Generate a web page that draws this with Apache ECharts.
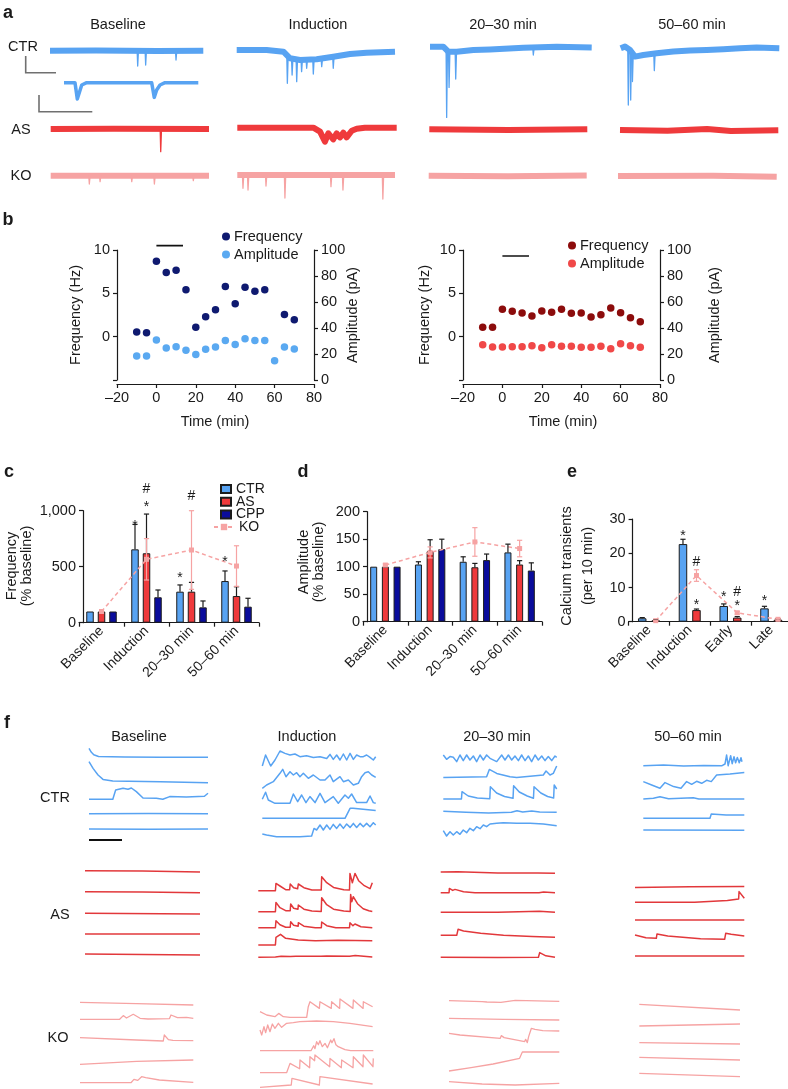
<!DOCTYPE html>
<html><head><meta charset="utf-8">
<script src="https://cdn.jsdelivr.net/npm/echarts/dist/echarts.min.js"></script>
<style>html,body{margin:0;padding:0;background:#fff}#c{width:788px;height:1089px}</style>
</head><body><div id="c"></div>
<script>
// ================= DATA =================
// ---- Panel a: patch-clamp sweeps. band = [t (% of sweep), current], spikes = [t, from, to]
const aCols = ['Baseline','Induction','20–30 min','50–60 min'];
const aRows = ['CTR','AS','KO'];
const aCtrBaseBand = [[0,0],[30,0.3],[70,-0.3],[100,0]];
const aCtrBaseSpikes = [[57.2,0,-15.3],[62.4,0,-14.3],[82.2,0,-9.3]];
const aCtrZoomBand = [[0,0],[8.2,0],[9.9,-16.3],[13.2,-2.3],[16.9,0],[65.3,0],[67.2,-14.7],[69,-7.3],[71.5,-2.3],[75.2,0],[100,0]];
const aAsBaseBand = [[0,0],[40,0.3],[100,0]];
const aAsBaseSpikes = [[69.5,0,-22.7]];
const aKoBaseBand = [[0,0],[100,0]];
const aKoBaseSpikes = [[24.4,0,-8.3],[31.2,0,-6],[51.2,0,-6],[65.5,0,-8.3],[90.1,0,-5]];
const aCtrIndBand = [[0,0],[18.9,0],[29.5,-1.7],[33.7,-8.3],[40,-10],[50.5,-9.3],[61,-6.7],[71.6,-4],[82,-2.7],[100,-1.7]];
const aCtrIndSpikes = [[32,-6,-33.3],[35,-9,-25],[37.9,-9.7,-31.7],[41,-10,-21.7],[44.2,-9.8,-18.3],[48.4,-9.5,-24],[53.7,-8.7,-16.7],[61,-6.7,-18.3]];
const aAsIndBand = [[0,0],[47.7,0],[51.9,-4],[55,-14],[57.1,-5.7],[60.2,-11.7],[62.3,-5.7],[64.4,-9.7],[66.5,-5],[68.6,-9.7],[71.8,-3],[74.9,-1],[80,0],[100,0]];
const aKoIndBand = [[0,0],[100,0]];
const aKoIndSpikes = [[3.6,0,-13.3],[6.8,0,-15],[18.2,0,-11],[30.2,0,-23],[59.4,0,-11.7],[67,0,-15],[92.3,0,-24]];
const aCtr2030Band = [[0,0],[8.2,0],[11.3,-5],[16.5,-5],[26.8,-3.3],[37.1,-2.7],[57.7,-1],[78.4,0],[100,-0.7]];
const aCtr2030Spikes = [[10.3,-3,-70.7],[11.8,-5,-40.7],[15.9,-5,-32.3],[63.9,-1,-8.3]];
const aAs2030Band = [[0,0],[50,-0.7],[100,0]];
const aKo2030Band = [[0,0],[50,-0.5],[100,0.3]];
const aCtr5060Band = [[0,0],[2.7,1.7],[5.9,-1.7],[9,-8.3],[14.3,-6.7],[22.7,-5],[33.2,-3.3],[43.7,-2.3],[54.2,-1.7],[64.7,-1],[75.2,0],[85.7,0.7],[100,0]];
const aCtr5060Spikes = [[4.8,-1,-56.7],[6.3,-3,-51.7],[7.4,-5,-33.3],[21.2,-5,-22.3]];
const aAs5060Band = [[0,0],[30,-0.7],[55,1],[70,-1],[100,-0.3]];
const aKo5060Band = [[0,0],[60,0.3],[100,-0.7]];

// ---- Panel b
const bTime = [-10,-5,0,5,10,15,20,25,30,35,40,45,50,55,60,65,70];
const bCtrFreq = [0.55,0.45,8.7,7.4,7.65,5.4,1.1,2.3,3.1,5.8,3.8,5.7,5.25,5.4,null,2.55,1.95];
const bCtrAmp = [18.5,18.5,30.8,24.6,25.6,22.8,19.7,23.6,25.4,30.3,27.4,31.8,30.3,30.3,14.9,25.4,23.8];
const bAsFreq = [1.08,1.08,3.16,2.93,2.73,2.39,2.96,2.81,3.16,2.69,2.73,2.27,2.54,3.31,2.77,2.19,1.73];
const bAsAmp = [27.2,25.4,25.4,25.6,25.6,26.4,24.9,27.2,25.9,25.9,25.1,25.1,25.9,24.1,27.9,26.4,25.1];
const bInduction = [0, 13.5];

// ---- Panel c (frequency, % baseline)
const cCats = ['Baseline','Induction','20–30 min','50–60 min'];
const cCTR = [100,655,277,372], cCTRerr = [0,223,60,90];
const cAS = [100,620,277,238], cASerr = [0,350,83,83];
const cCPP = [100,227,137,143], cCPPerr = [0,65,57,75];
const cKO = [100,566,649,506], cKOerr = [0,185,351,181];
const cNotes = [[1,0,899,'*'],[1,1,1069,'*'],[1,1,1194,'#'],[2,0,435,'*'],[2,1,1131,'#'],[3,0,578,'*']];

// ---- Panel d (amplitude, % baseline)
const dCats = ['Baseline','Induction','20–30 min','50–60 min'];
const dCTR = [100,104,109,126], dCTRerr = [0,5,9,15];
const dAS = [100,128,99,104], dASerr = [0,21,7,7];
const dCPP = [100,132,112,93], dCPPerr = [0,18,11,14];
const dKO = [103,126,145,133], dKOerr = [2,10,26,15];

// ---- Panel e (calcium transients per 10 min)
const eCats = ['Baseline','Induction','Early','Late'];
const eCTR = [1.0,22.7,4.6,3.9], eCTRerr = [0.2,1.4,0.6,0.6];
const eAS = [0.4,3.4,1.2,0.6], eASerr = [0.1,0.3,0.3,0.2];
const eKO = [0.3,13.5,2.6,0.7], eKOerr = [0.1,1.7,0.4,0.2];
const eNotes = [[1,0,26.2,'*'],[1,1,17.7,'#'],[1,1,6.0,'*'],[2,0,8.4,'*'],[2,1,8.7,'#'],[2,1,5.8,'*'],[3,0,7.2,'*']];

// ---- Panel f: calcium traces, [t (% of sweep), dF]
const fCtrBaseline = [
 [[0,9],[2,5],[4,2.5],[8,0.8],[30,0.3],[60,0],[100,0]],
 [[0,20],[3.4,13.3],[7.6,6.7],[11.8,2.3],[20,0.7],[60,0],[100,-1]],
 [[0,0],[20,0],[22.4,9.3],[28.6,11],[32.8,10],[35.6,11.3],[39.8,7.7],[45.4,1.3],[56.6,1],[62,0],[67.8,2.7],[81.8,2.3],[97,3],[100,6]],
 [[0,0],[50,0.3],[100,0]],
 [[0,0],[50,-0.3],[100,0]]];
const fCtrInduction = [
 [[0,-9.3],[2.9,1.7],[7.4,-9.3],[11.2,-3.3],[15.6,5.7],[20,3.3],[24.4,1.7],[28.8,2.7],[33.2,0],[39,1],[45,-0.7],[50.9,0],[56.8,-1.7],[59.7,2.3],[62.6,-2.7],[65.6,1.7],[68.5,-3.3],[71.5,2.7],[74.4,-3.3],[77.4,3.3],[80.3,-2.7],[83.2,1.7],[86.2,0],[89.1,0],[92,1.7],[95,-0.7],[97.9,-3.3],[100,0]],
 [[0,-8.3],[3.8,-5],[9.7,-1.7],[15.6,6.7],[18,10.7],[20.9,3.3],[24.4,8.3],[27.4,5],[30.3,7.3],[33.2,3.3],[36.2,6.7],[40.6,1.7],[45,5],[50.9,0],[55.3,0],[59.7,5],[62.6,-1.7],[68.5,3.3],[71.5,-1.7],[75.9,0],[80.3,-5],[84.7,-3.3],[87.6,3.3],[90.6,7.3],[93.5,8.3],[96.5,5],[100,2.7]],
 [[0,4],[2.9,11],[5.3,3.3],[11.2,0],[24.4,0],[27.4,9.3],[31.2,1.7],[34.7,8.3],[38.5,0.7],[42,6.7],[46.5,0.7],[50.9,10],[55.3,0.7],[62.6,6.7],[67,0],[72.9,8.3],[75.9,5],[78.8,9.3],[83.2,0.7],[92,0.7],[95,7.3],[97.9,0.7],[100,0]],
 [[0,0],[72.9,0],[77.4,10],[80,10],[100,7.7]],
 [[0,2.7],[3.8,1.7],[12.6,0],[33.2,0],[43.5,0.7],[45.6,8.3],[47.9,6.7],[50.9,11.7],[53.8,6.7],[56.8,11.7],[59.7,7.3],[62.6,12.3],[65.6,8.3],[68.5,12.7],[71.5,8.3],[74.4,12.7],[77.4,9.3],[80.3,13.3],[83.2,9.3],[86.2,13.3],[89.1,10],[92,13.3],[95,10],[97.9,14],[100,11.7]]];
const fCtr2030 = [
 [[0,3.3],[2.9,-1],[5.9,1.7],[8.8,1],[11.8,-3.3],[14.7,3.3],[17.6,-2.3],[20.6,3.3],[23.5,-1.7],[26.5,2.3],[29.4,-3.3],[32.4,3.3],[35.3,-1.7],[38.2,3.3],[41.2,0],[47.1,-3.3],[51.5,3.3],[54.4,-1.7],[57.4,3.3],[60.3,-1.7],[63.2,2.3],[66.2,-2.3],[69.1,3.3],[72.1,-2.3],[75,2.3],[77.9,-3.3],[80.9,3.3],[83.8,-1.7],[86.8,2.3],[89.7,-2.3],[92.6,1.7],[95.6,-2.3],[98.5,2.3],[100,1]],
 [[0,-0.7],[38.2,0],[40.6,7.3],[47.1,3.3],[58.8,0],[64.7,-0.7],[88.2,1.7],[90.6,5.7],[94.1,1.7],[97,3.3],[100,10.7]],
 [[0,0],[16,0],[16.5,7.3],[22,3],[30,1],[41,0.3],[41.5,12.3],[47,6],[54,2.5],[61.5,0.7],[62,13.3],[67,7],[74,3],[79.5,0.7],[80,12.3],[86,6],[92,2.5],[97.3,1],[97.8,14],[100,10]],
 [[0,1],[20,0],[40,-0.7],[60,0],[65,1.5],[70,0.3],[78,1.3],[85,0.3],[100,0]],
 [[0,-5.7],[2.9,-11],[5.9,-6.7],[8.8,-10],[11.8,-6.7],[14.7,-9.3],[17.6,-5],[20.6,-7.7],[23.5,-3.3],[26.5,-5.7],[29.4,-1.7],[32.4,-3.7],[35.3,0],[38.2,-1.7],[41.2,1],[47.1,1.7],[52.9,2.3],[64.7,1.7],[76.5,1.7],[88.2,1],[100,-0.7]]];
const fCtr5060 = [
 [[0,0],[20,0.7],[40,-0.3],[60,0.3],[78,0],[80.9,1.7],[82.5,10.7],[84,0],[86.5,10],[88,2],[89.8,9],[91.4,3],[93.1,8.3],[95,3],[96.7,8],[97.7,4]],
 [[0,1.7],[8.3,-1.7],[16.5,-5],[21.5,0.7],[30,-3.3],[37.3,-5],[42.9,1.7],[47.9,-1],[52.8,2],[57.8,0],[62.7,3],[67.3,1.7],[72.6,8.3],[85.8,9.3],[100,10.7]],
 [[0,0],[10,0.7],[16.5,2.3],[25,0.3],[49.5,1.3],[55,0],[100,0]],
 [[0,0],[66,0],[67.3,4.3],[82,3.3],[83.5,5],[90,3.3],[100,3.3]],
 [[0,0],[100,-0.3]]];
const fAsBaseline = [
 [[0,0],[50,-0.3],[100,-1.3]],
 [[0,0],[50,-0.3],[100,-1]],
 [[0,0],[100,-0.7]],
 [[0,0],[100,0]],
 [[0,0],[100,-1]]];
const fAsInduction = [
 [[0,0],[15,0],[15.5,7.3],[19,4.7],[24,1],[27.5,1],[28,6.7],[31,3],[34.5,2],[35.1,6.7],[40,3],[47,0.7],[55.2,0.7],[55.6,14],[60,8],[66,3.3],[75,1],[80,0.7],[80.4,17.3],[82.5,8],[84.8,17.3],[88,10],[93,5],[98,2],[99,2],[100,8]],
 [[0,0],[15,0],[15.5,9.3],[19,4],[24,1],[28,1],[28.4,7.7],[31,3.5],[34.8,2.5],[35.1,6.7],[40,2.5],[47,0.7],[55.2,0.3],[55.6,14],[60,7],[66,2.5],[75,0.7],[80.6,0.3],[81,17.3],[82,10],[83.3,15],[87,8],[92,3],[97,1],[100,0.3]],
 [[0,0],[15,0],[15.5,7],[19,3],[24,0.5],[28,0.5],[28.4,6],[31,2.5],[35,1.5],[35.1,5],[40,1.5],[50,0],[55.3,0],[55.6,5.7],[60,2],[68,0],[80,0],[80.4,5],[83,2],[84.8,3.7],[90,1],[100,0]],
 [[0,0],[15,0],[15.5,7.7],[17,6.5],[19.5,10.7],[24,6.7],[35,5],[50,4.3],[70,4.7],[100,4.3]],
 [[0,0],[15,0.3],[16,2.3],[20,1],[28,0.7],[29,2],[33,1],[55,1],[56,2.7],[60,1.3],[80,1],[81,2.7],[85,1.7],[100,0.3]]];
const fAs2030 = [
 [[0,0],[15,0.3],[50,-1],[85,-1],[86,0],[100,-1.3]],
 [[0,0],[7.3,0],[7.6,4.3],[10.5,2.3],[12.5,3.3],[20,1],[30,0],[86,0],[86.6,1.7],[90,0.7],[100,0]],
 [[0,0],[50,0],[86.3,1],[88,0],[100,0]],
 [[0,0],[14,0],[15.2,6],[20,4.3],[35,2],[55,0],[80,-1.3],[100,-2]],
 [[0,0],[50,-0.3],[85.5,0],[86.6,4.7],[92,1.5],[100,0]]];
const fAs5060 = [
 [[0,-0.7],[50,0],[100,0.3]],
 [[0,0],[54.5,0],[55,1.7],[84.5,1.7],[85,3.3],[94.8,3.3],[95.2,10.7],[100,4]],
 [[0,0],[100,0]],
 [[0,1],[10,-1.7],[19.5,-2.3],[20.1,2],[30,0],[60,-2.7],[82,-3.3],[83,2.7],[88,1.7],[100,0]],
 [[0,0],[100,0]]];
const fKoBaseline = [
 [[0,1],[50,-0.3],[100,-1.7]],
 [[0,0],[35,0],[38.2,3.7],[41,1.3],[47,5],[53,1],[60,0.3],[79,0.7],[80.3,4.3],[86,1.7],[94,2],[100,1]],
 [[0,0.7],[50,-1.7],[73.5,-2.7],[74.4,3.3],[78,-1.3],[82,-2],[100,-2.3]],
 [[0,-1],[50,2],[100,3.3]],
 [[0,-1],[45,-1],[47.6,2.3],[51,1.3],[54.4,5],[58,4],[70,1.7],[100,-0.7]]];
const fKoInduction = [
 [[0,5],[5.9,1.7],[13.2,0],[16.5,3.3],[20.6,0],[26.5,-0.7],[41.2,-0.7],[42.6,10],[44.1,15],[52.4,8.3],[52.9,15],[62.9,8.3],[63.2,15],[70.3,8.3],[70.6,17.7],[82,8.3],[82.4,16.7],[91,8.3],[91.2,15],[99.4,10]],
 [[0,-5],[1.5,-10],[3.5,-1.7],[5,-7.7],[6.8,0],[8.8,-6.7],[10.9,1],[13.2,-3.3],[16.2,1.7],[19.1,-2.3],[23.5,1.7],[29.4,2.3],[35.3,3.3],[50,4],[64.7,3.3],[79.4,1.7],[99.4,-1.7]],
 [[0,0],[45,0],[47.4,5],[48.5,2],[50,9],[51.5,6],[52.9,10],[55,4],[57.4,7.3],[59.5,3],[62.4,10.7],[63.5,8],[65.3,12],[67,6],[69,4],[75,1],[80,0],[100,0]],
 [[0,0],[23.5,0],[26.5,9.3],[35,4],[35.3,12.7],[43.8,5],[44.1,16],[48.2,12],[48.5,17.7],[61.5,6],[61.8,14.3],[71.8,5],[72.1,12.7],[82.1,5],[82.4,16],[90.9,6],[91.2,17.7],[99.7,6],[100,14.3]],
 [[0,0],[27.6,2.3],[28.2,9],[52.4,2.3],[52.9,10.7],[99.4,3.3]]];
const fKo2030 = [
 [[0,0],[30,-1],[34.4,-1.3],[35,0.3],[47,-1.7],[48,0],[60,0.3],[100,-0.7]],
 [[0,0],[50,-1],[100,-1.7]],
 [[0,0],[10,-1.7],[46.5,-5],[47.4,-2.3],[50,-4.3],[68.6,-8.3],[69.5,-6],[71,-9.3],[72.2,-3.3],[74.7,5],[78,4],[85,2.7],[100,2.3]],
 [[0,0],[20,3.3],[40,7],[64,12.7],[65.5,13],[66.5,19],[68,20],[100,19]],
 [[0,0],[30,-2.3],[60,-3.3],[100,-1.7]]];
const fKo5060 = [
 [[0,0],[100,-5.7]],
 [[0,-1],[100,1]],
 [[0,0],[100,-1.3]],
 [[0,0],[100,-2.7]],
 [[0,0],[100,-3.3]]];
const fCols = ['Baseline','Induction','20–30 min','50–60 min'];
const fRows = ['CTR','AS','KO'];

// ================= STYLE / LAYOUT =================
const FF = "'Liberation Sans', Arial, Helvetica, sans-serif";
const INK = '#1a1a1a';
const C_CTR = '#58a3f2', C_AS = '#ef3a3c', C_KO = '#f6a3a3', C_CPP = '#0a0c9c';
const C_ASf = '#e2383b';
const opt = {animation:false, backgroundColor:'#fff', textStyle:{fontFamily:FF},
  grid:[], xAxis:[], yAxis:[], series:[], legend:[], graphic:{elements:[]}};
function grid(g){ opt.grid.push(Object.assign({outerBoundsMode:'none', containLabel:false, show:false}, g)); return opt.grid.length-1; }
function xaxis(a){ opt.xAxis.push(a); return opt.xAxis.length-1; }
function yaxis(a){ opt.yAxis.push(a); return opt.yAxis.length-1; }
function txt(x,y,s,o){ o=o||{}; opt.graphic.elements.push({type:'text', x:x, y:y, rotation:o.rot||0, silent:true, z:10,
  style:{text:s, fill:o.color||INK, fontSize:o.size||14.5, fontWeight:o.bold?'bold':'normal', fontFamily:FF,
  align:o.align||'center', verticalAlign:'middle', textAlign:o.align||'center', textVerticalAlign:'middle'}}); }
function traceAxes(x0,x1,base,above,below){
  const gi = grid({left:x0, width:x1-x0, top:base-above, height:above+below});
  const xi = xaxis({gridIndex:gi, type:'value', min:0, max:100, show:false});
  const yi = yaxis({gridIndex:gi, type:'value', min:-below, max:above, show:false});
  return {xi:xi, yi:yi};
}
function line(ax, pts, color, width){
  opt.series.push({type:'line', xAxisIndex:ax.xi, yAxisIndex:ax.yi, data:pts, symbol:'none', showSymbol:false,
    clip:false, silent:true, z:2, lineStyle:{color:color, width:width, join:'round', cap:'butt'}});
}

// ================= PANEL a =================
const aSweeps = [
 {band:aCtrBaseBand, spikes:aCtrBaseSpikes, c:C_CTR, x0:50, x1:203.3, y:50.7, w:6},
 {band:aCtrZoomBand, spikes:[], c:C_CTR, x0:64, x1:198.3, y:82.7, w:3.5},
 {band:aAsBaseBand, spikes:aAsBaseSpikes, c:C_AS, x0:50.7, x1:209, y:129, w:6},
 {band:aKoBaseBand, spikes:aKoBaseSpikes, c:C_KO, x0:50.7, x1:209, y:175.7, w:6},
 {band:aCtrIndBand, spikes:aCtrIndSpikes, c:C_CTR, x0:236.7, x1:395, y:50, w:6},
 {band:aAsIndBand, spikes:[], c:C_AS, x0:237.3, x1:396.7, y:127.7, w:6},
 {band:aKoIndBand, spikes:aKoIndSpikes, c:C_KO, x0:237.3, x1:395, y:175, w:6},
 {band:aCtr2030Band, spikes:aCtr2030Spikes, c:C_CTR, x0:430, x1:591.7, y:46.7, w:6},
 {band:aAs2030Band, spikes:[], c:C_AS, x0:429.3, x1:587.3, y:129.3, w:6},
 {band:aKo2030Band, spikes:[], c:C_KO, x0:428.7, x1:586.7, y:175.7, w:6},
 {band:aCtr5060Band, spikes:aCtr5060Spikes, c:C_CTR, x0:620.7, x1:779.3, y:48.3, w:6},
 {band:aAs5060Band, spikes:[], c:C_AS, x0:620, x1:778.3, y:130, w:6},
 {band:aKo5060Band, spikes:[], c:C_KO, x0:618, x1:776.7, y:176, w:6}
];
aSweeps.forEach(function(s){
  const ax = traceAxes(s.x0, s.x1, s.y, 12, 75);
  line(ax, s.band, s.c, s.w);
  s.spikes.forEach(function(k){ line(ax, [[k[0]-0.35,k[1]],[k[0],k[2]],[k[0]+0.5,k[1]]], s.c, 1.3); });
});
[118,318,503,692].forEach(function(x,i){ txt(x,25,aCols[i]); });
txt(23,47,aRows[0]); txt(21,130,aRows[1]); txt(21,176,aRows[2]);
opt.graphic.elements.push({type:'polyline', silent:true, shape:{points:[[25.7,56],[25.7,72.7],[56,72.7]]}, style:{stroke:'#707070', lineWidth:1.6, fill:null}});
opt.graphic.elements.push({type:'polyline', silent:true, shape:{points:[[39,95],[39,111.7],[92.3,111.7]]}, style:{stroke:'#707070', lineWidth:1.6, fill:null}});

// ================= PANEL b =================
const AXL = {color:INK, width:1.2};
const LBL = {color:INK, fontSize:14.5, fontFamily:FF};
function bPanel(left, freq, amp, cF, cA, prefix, barY, legLeft, legTop){
  const gi = grid({left:left, top:250, width:197, height:130});
  const xi = xaxis({gridIndex:gi, type:'value', min:-20, max:80, interval:20, offset:4,
    axisLine:{show:true, onZero:false, lineStyle:AXL}, axisTick:{show:true, length:4, lineStyle:AXL},
    axisLabel:Object.assign({margin:6, formatter:function(v){return v<0?'–'+(-v):String(v);}}, LBL), splitLine:{show:false}});
  const yi = yaxis({gridIndex:gi, type:'value', min:-5, max:10, interval:5, position:'left',
    axisLine:{show:true, onZero:false, lineStyle:AXL}, axisTick:{show:true, length:4, lineStyle:AXL},
    axisLabel:Object.assign({margin:7, formatter:function(v){return v<0?'':String(v);}}, LBL), splitLine:{show:false}});
  const yi2 = yaxis({gridIndex:gi, type:'value', min:0, max:100, interval:20, position:'right',
    axisLine:{show:true, onZero:false, lineStyle:AXL}, axisTick:{show:true, length:4, lineStyle:AXL},
    axisLabel:Object.assign({margin:7}, LBL), splitLine:{show:false}});
  opt.series.push({type:'scatter', name:prefix+' Frequency', xAxisIndex:xi, yAxisIndex:yi, symbolSize:7.5, itemStyle:{color:cF, opacity:1},
    data: bTime.map(function(t,i){return [t, freq[i]];}).filter(function(p){return p[1]!==null;}), z:4});
  opt.series.push({type:'scatter', name:prefix+' Amplitude', xAxisIndex:xi, yAxisIndex:yi2, symbolSize:7.5, itemStyle:{color:cA, opacity:1},
    data: bTime.map(function(t,i){return [t, amp[i]];}), z:3});
  opt.series.push({type:'line', xAxisIndex:xi, yAxisIndex:yi, data:[[bInduction[0],barY],[bInduction[1],barY]], symbol:'none', clip:false, silent:true,
    lineStyle:{color:'#111', width:1.6}});
  opt.legend.push({data:[prefix+' Frequency', prefix+' Amplitude'], left:legLeft, top:legTop, orient:'vertical', icon:'circle',
    itemWidth:8, itemHeight:8, itemGap:3, padding:0, selectedMode:false, formatter:function(n){return n.split(' ')[1];},
    textStyle:{color:INK, fontSize:14.5, fontFamily:FF, padding:[0,0,0,-1]}});
}
bPanel(117, bCtrFreq, bCtrAmp, '#0f1a70', '#5aa9f1', 'CTR', 10.5, 222, 229);
bPanel(463, bAsFreq, bAsAmp, '#8c0c0c', '#f04848', 'AS', 9.3, 568, 238);
txt(76,315,'Frequency (Hz)',{rot:Math.PI/2}); txt(353,315,'Amplitude (pA)',{rot:Math.PI/2}); txt(215,422,'Time (min)');
txt(425,315,'Frequency (Hz)',{rot:Math.PI/2}); txt(715,315,'Amplitude (pA)',{rot:Math.PI/2}); txt(563,422,'Time (min)');

// ================= PANELS c, d, e =================
function errSeries(xi, yi, means, errs, off, color, two, cap){
  opt.series.push({type:'custom', xAxisIndex:xi, yAxisIndex:yi, silent:true, z:5, clip:false,
    data: means.map(function(m,i){return [i, m, errs[i]];}),
    renderItem:function(p, api){
      const c=api.value(0), m=api.value(1), e=api.value(2); const ch=[];
      if(e>0){
        const hi=api.coord([c,m+e]), lo=api.coord([c, two? m-e : m]); const x=hi[0]+off;
        const st={stroke:color, lineWidth:1.2};
        ch.push({type:'line', shape:{x1:x,y1:lo[1],x2:x,y2:hi[1]}, style:st});
        ch.push({type:'line', shape:{x1:x-cap,y1:hi[1],x2:x+cap,y2:hi[1]}, style:st});
        if(two) ch.push({type:'line', shape:{x1:x-cap,y1:lo[1],x2:x+cap,y2:lo[1]}, style:st});
      }
      return {type:'group', children:ch};
    }});
}
function noteSeries(xi, yi, notes, offs){
  opt.series.push({type:'custom', xAxisIndex:xi, yAxisIndex:yi, silent:true, z:6, clip:false,
    data: notes.map(function(n){return [n[0], n[2], n[1]];}),
    renderItem:function(p, api){
      const n=notes[p.dataIndex]; const pt=api.coord([api.value(0), api.value(1)]);
      const dy = n[3]==='*' ? 4 : 0.5;
      return {type:'text', x:pt[0]+offs[n[1]], y:pt[1]+dy, style:{text:n[3], fill:INK, fontSize:14, fontFamily:FF,
        align:'center', verticalAlign:'middle', textAlign:'center', textVerticalAlign:'middle'}};
    }});
}
function barPanel(cfg){
  const gi = grid({left:cfg.left, top:cfg.top, width:cfg.width, height:cfg.height});
  const xi = xaxis({gridIndex:gi, type:'category', data:cfg.cats, boundaryGap:true,
    axisLine:{show:true, onZero:false, lineStyle:AXL}, axisTick:{show:true, length:4, lineStyle:AXL},
    axisLabel:{color:INK, fontSize:14, fontFamily:FF, rotate:45, interval:0, margin:6, hideOverlap:false}, splitLine:{show:false}});
  const yi = yaxis({gridIndex:gi, type:'value', min:0, max:cfg.max, interval:cfg.interval, offset:-4,
    axisLine:{show:true, onZero:false, lineStyle:AXL}, axisTick:{show:true, length:4, lineStyle:AXL},
    axisLabel:Object.assign({margin:7, formatter:cfg.fmt||function(v){return String(v);}}, LBL), splitLine:{show:false}});
  const n = cfg.bars.length; const step = cfg.bw + cfg.gap;
  const offs = cfg.bars.map(function(b,i){return (i-(n-1)/2)*step;});
  cfg.bars.forEach(function(b,i){
    opt.series.push({type:'bar', name:b.name, xAxisIndex:xi, yAxisIndex:yi, data:b.data, barWidth:cfg.bw,
      barGap:(cfg.gap/cfg.bw*100)+'%', itemStyle:{color:b.color, borderColor:'#1c1c1c', borderWidth:1}, z:2, silent:true});
    errSeries(xi, yi, b.data, b.err, offs[i], '#1c1c1c', false, 2.6);
  });
  // KO line sits on the x position of the AS bar
  let kx = xi, ky = yi;
  if (cfg.koShift){
    const g2 = grid({left:cfg.left+cfg.koShift, top:cfg.top, width:cfg.width, height:cfg.height});
    kx = xaxis({gridIndex:g2, type:'category', data:cfg.cats, boundaryGap:true, show:false});
    ky = yaxis({gridIndex:g2, type:'value', min:0, max:cfg.max, show:false});
  }
  opt.series.push({type:'line', name:'KO', xAxisIndex:kx, yAxisIndex:ky, data:cfg.ko, symbol:'rect', symbolSize:5,
    itemStyle:{color:C_KO}, lineStyle:{color:C_KO, width:1.5, type:[4,3]}, z:4, silent:true, clip:false});
  errSeries(kx, ky, cfg.ko, cfg.koErr, 0, C_KO, true, 2.6);
  if (cfg.notes) noteSeries(xi, yi, cfg.notes, offs);
}
barPanel({left:79, top:510.7, width:180, height:112, cats:cCats, max:1000, interval:500,
  fmt:function(v){return v===1000?'1,000':String(v);}, bw:7.5, gap:4,
  bars:[{name:'CTR', data:cCTR, err:cCTRerr, color:C_CTR},{name:'AS', data:cAS, err:cASerr, color:C_AS},{name:'CPP', data:cCPP, err:cCPPerr, color:C_CPP}],
  ko:cKO, koErr:cKOerr, notes:cNotes});
barPanel({left:363, top:511.7, width:179, height:110, cats:dCats, max:200, interval:50, bw:7, gap:4.7,
  bars:[{name:'CTR', data:dCTR, err:dCTRerr, color:C_CTR},{name:'AS', data:dAS, err:dASerr, color:C_AS},{name:'CPP', data:dCPP, err:dCPPerr, color:C_CPP}],
  ko:dKO, koErr:dKOerr});
barPanel({left:628.6, top:519.1, width:163, height:102.6, cats:eCats, max:30, interval:10, bw:8.5, gap:5,
  bars:[{name:'CTR', data:eCTR, err:eCTRerr, color:C_CTR},{name:'AS', data:eAS, err:eASerr, color:C_AS}],
  ko:eKO, koErr:eKOerr, koShift:6.75, notes:eNotes});
opt.legend.push({data:['CTR','AS','CPP'], left:220, top:482, orient:'vertical', icon:'rect', itemWidth:10, itemHeight:8, itemGap:-1.3,
  padding:0, selectedMode:false, textStyle:{color:INK, fontSize:14, fontFamily:FF}});
opt.legend.push({data:['KO'], left:213, top:520, orient:'vertical', itemWidth:20, itemHeight:8, padding:0, selectedMode:false,
  textStyle:{color:INK, fontSize:14, fontFamily:FF}});
txt(12,566,'Frequency',{rot:Math.PI/2}); txt(27,566,'(% baseline)',{rot:Math.PI/2});
txt(304,562,'Amplitude',{rot:Math.PI/2}); txt(319,562,'(% baseline)',{rot:Math.PI/2});
txt(567,566,'Calcium transients',{rot:Math.PI/2}); txt(588,566,'(per 10 min)',{rot:Math.PI/2});

// ================= PANEL f =================
const fBlocks = [
 {d:fCtrBaseline, c:C_CTR, x0:89, x1:208, rows:[757.3,781.7,799.3,813.7,829]},
 {d:fCtrInduction, c:C_CTR, x0:262.3, x1:375.7, rows:[756.7,780,803.3,818.3,836.7]},
 {d:fCtr2030, c:C_CTR, x0:443.3, x1:556.7, rows:[758.3,776.7,799,812.3,825]},
 {d:fCtr5060, c:C_CTR, x0:643.3, x1:744.3, rows:[765.7,783.3,799,818.3,830]},
 {d:fAsBaseline, c:C_ASf, x0:85, x1:200, rows:[870.7,891.7,913.3,934,954]},
 {d:fAsInduction, c:C_ASf, x0:258.3, x1:372.3, rows:[890.7,911.7,927.7,945,957.3]},
 {d:fAs2030, c:C_ASf, x0:440.7, x1:555, rows:[872,892.7,912.3,935.3,957.3]},
 {d:fAs5060, c:C_ASf, x0:635, x1:744.3, rows:[886.7,902.3,920,936,956]},
 {d:fKoBaseline, c:C_KO, x0:80, x1:193.3, rows:[1003.3,1019.3,1038.3,1063.3,1081.7]},
 {d:fKoInduction, c:C_KO, x0:260, x1:373.3, rows:[1016.7,1025,1050.7,1072.7,1087.3]},
 {d:fKo2030, c:C_KO, x0:449, x1:559.3, rows:[1000.7,1018.3,1033.3,1071,1081.7]},
 {d:fKo5060, c:C_KO, x0:639.3, x1:740, rows:[1004.3,1025,1042.7,1057.3,1073.3]}
];
fBlocks.forEach(function(b){
  b.d.forEach(function(tr, r){
    const ax = traceAxes(b.x0, b.x1, b.rows[r], 25, 15);
    line(ax, tr, b.c, b.c===C_KO?1.3:1.5);
  });
});
[139,307,497,688].forEach(function(x,i){ txt(x,737,fCols[i]); });
txt(55,798,fRows[0]); txt(60,915,fRows[1]); txt(58,1038,fRows[2]);
opt.graphic.elements.push({type:'line', silent:true, shape:{x1:89,y1:840,x2:122,y2:840}, style:{stroke:'#111', lineWidth:2}});

// ================= panel letters =================
[['a',8,13],['b',8,220],['c',9,472],['d',303,472],['e',572,472],['f',7,723]].forEach(function(l){ txt(l[1],l[2],l[0],{bold:true,size:18}); });

const chart = echarts.init(document.getElementById('c'), null, {renderer:'canvas'});
chart.setOption(opt);
</script></body></html>
